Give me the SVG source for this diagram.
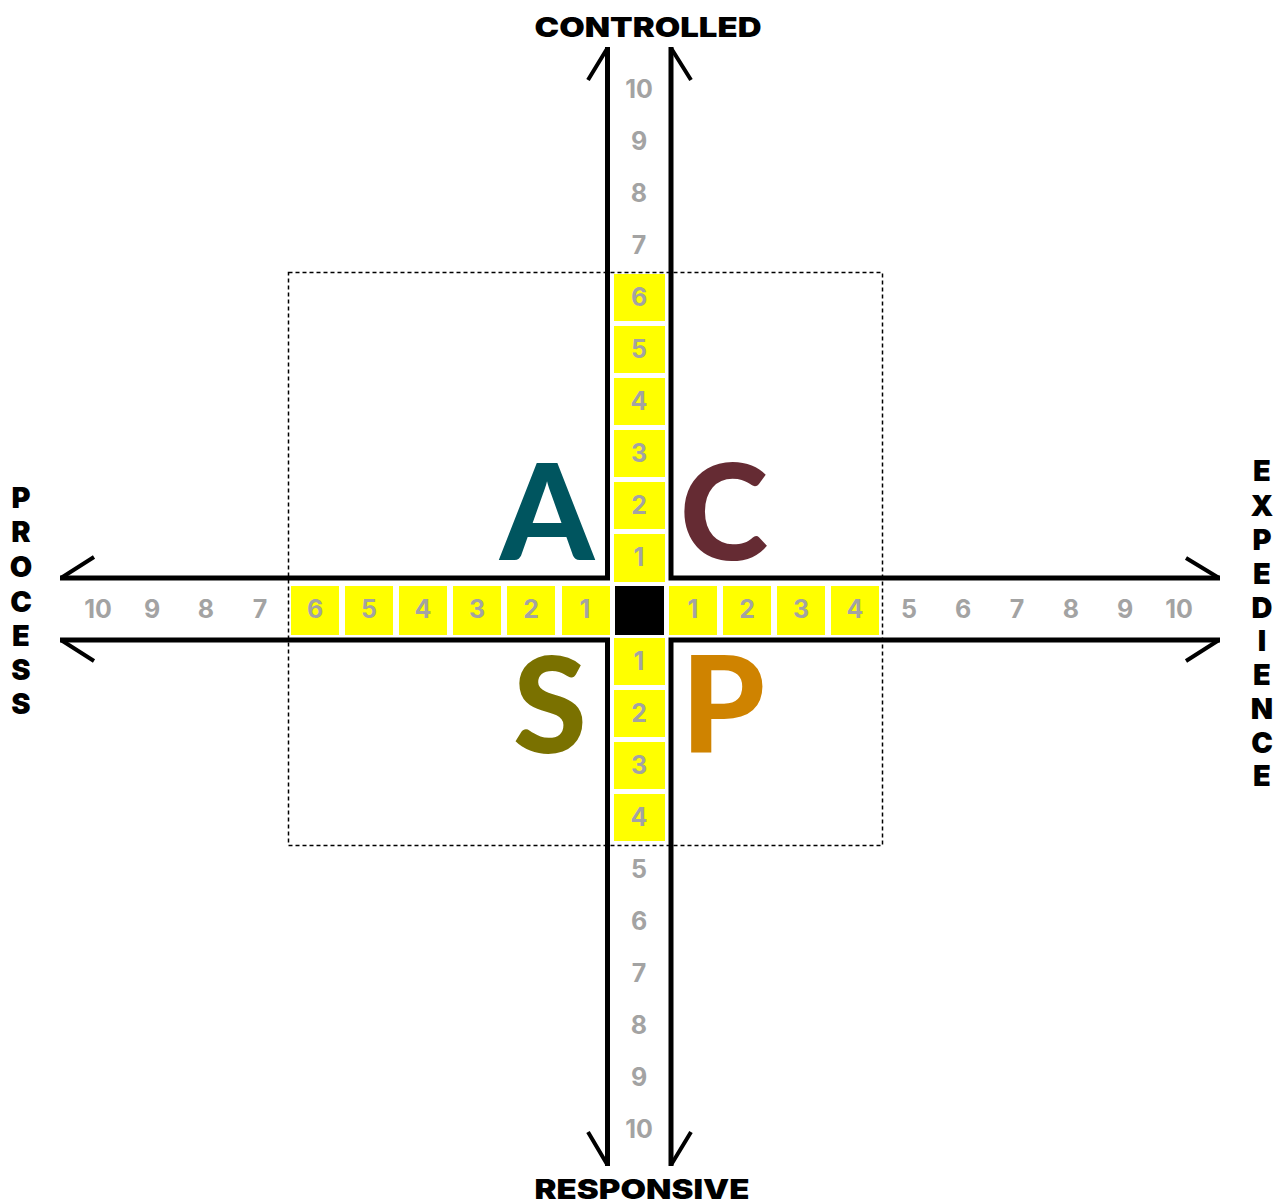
<svg xmlns="http://www.w3.org/2000/svg" width="1283" height="1204" viewBox="0 0 1283 1204">
<style>
.ax{fill:none;stroke:#000;stroke-width:5;stroke-linejoin:miter}
.ah{fill:none;stroke:#000;stroke-width:4;stroke-linecap:butt}
.cell{fill:#ffff00}
.n{font-family:"Inter","Lato","Liberation Sans",sans-serif;font-weight:700;font-size:25px;fill:#a3a3a3;text-anchor:middle}
.lbl{font-family:"Inter","Lato","Liberation Sans",sans-serif;font-weight:900;font-size:27px;fill:#000;text-anchor:middle}
.side{font-family:"Inter","Lato","Liberation Sans",sans-serif;font-weight:900;font-size:29px;fill:#000;text-anchor:middle}
.big{font-family:"Lato","Liberation Sans",sans-serif;font-weight:900;font-size:134px;text-anchor:middle}
</style>
<rect width="1283" height="1204" fill="#fff"/>
<g id="frame">
<rect x="288.5" y="272.5" width="594" height="573" fill="none" stroke="#000" stroke-width="1.5" stroke-dasharray="4 3"/>
</g>
<g id="connectors">
<path class="ax" d="M60,578 H607.5 V47"/>
<path class="ax" d="M1220,578 H671 V47"/>
<path class="ax" d="M60,640 H607.5 V1166"/>
<path class="ax" d="M1220,640 H671 V1166"/>
<path class="ah" d="M607.5,48 L588,80 M671,48 L691,80 M61,578 L94,557 M61,640 L94,661 M1219,578 L1186,558 M1219,640 L1186,661 M607.5,1165 L588,1132 M671,1165 L691,1132"/>
</g>
<g id="center"><rect x="615" y="586" width="49" height="49" fill="#000"/></g>
<g id="vertical-cells">
<rect class="cell" x="614" y="274" width="51" height="47"/>
<rect class="cell" x="614" y="326" width="51" height="47"/>
<rect class="cell" x="614" y="378" width="51" height="47"/>
<rect class="cell" x="614" y="430" width="51" height="47"/>
<rect class="cell" x="614" y="482" width="51" height="47"/>
<rect class="cell" x="614" y="534" width="51" height="48"/>
<rect class="cell" x="614" y="638" width="51" height="47"/>
<rect class="cell" x="614" y="690" width="51" height="47"/>
<rect class="cell" x="614" y="742" width="51" height="47"/>
<rect class="cell" x="614" y="794" width="51" height="47"/>
</g>
<g id="horizontal-cells">
<rect class="cell" x="291" y="586" width="48" height="49"/>
<rect class="cell" x="345" y="586" width="48" height="49"/>
<rect class="cell" x="399" y="586" width="48" height="49"/>
<rect class="cell" x="453" y="586" width="48" height="49"/>
<rect class="cell" x="507" y="586" width="48" height="49"/>
<rect class="cell" x="562" y="586" width="48" height="49"/>
<rect class="cell" x="669" y="586" width="48" height="49"/>
<rect class="cell" x="723" y="586" width="48" height="49"/>
<rect class="cell" x="777" y="586" width="48" height="49"/>
<rect class="cell" x="831" y="586" width="48" height="49"/>
</g>
<g id="vertical-numbers">
<text class="n" x="639" y="98">10</text>
<text class="n" x="639" y="150">9</text>
<text class="n" x="639" y="202">8</text>
<text class="n" x="639" y="254">7</text>
<text class="n" x="639" y="306">6</text>
<text class="n" x="639" y="358">5</text>
<text class="n" x="639" y="410">4</text>
<text class="n" x="639" y="462">3</text>
<text class="n" x="639" y="514">2</text>
<text class="n" x="639" y="566">1</text>
<text class="n" x="639" y="670">1</text>
<text class="n" x="639" y="722">2</text>
<text class="n" x="639" y="774">3</text>
<text class="n" x="639" y="826">4</text>
<text class="n" x="639" y="878">5</text>
<text class="n" x="639" y="930">6</text>
<text class="n" x="639" y="982">7</text>
<text class="n" x="639" y="1034">8</text>
<text class="n" x="639" y="1086">9</text>
<text class="n" x="639" y="1138">10</text>
</g>
<g id="horizontal-numbers">
<text class="n" x="98" y="618">10</text>
<text class="n" x="152" y="618">9</text>
<text class="n" x="206" y="618">8</text>
<text class="n" x="260" y="618">7</text>
<text class="n" x="315" y="618">6</text>
<text class="n" x="369" y="618">5</text>
<text class="n" x="423" y="618">4</text>
<text class="n" x="477" y="618">3</text>
<text class="n" x="531" y="618">2</text>
<text class="n" x="585" y="618">1</text>
<text class="n" x="693" y="618">1</text>
<text class="n" x="747" y="618">2</text>
<text class="n" x="801" y="618">3</text>
<text class="n" x="855" y="618">4</text>
<text class="n" x="909" y="618">5</text>
<text class="n" x="963" y="618">6</text>
<text class="n" x="1017" y="618">7</text>
<text class="n" x="1071" y="618">8</text>
<text class="n" x="1125" y="618">9</text>
<text class="n" x="1179" y="618">10</text>
</g>
<g id="quadrant-A"><text class="big" x="547" y="560" fill="#00555f">A</text></g>
<g id="quadrant-C"><text class="big" x="724" y="560" fill="#652b33">C</text></g>
<g id="quadrant-S"><text class="big" x="550" y="753" fill="#7a7100">S</text></g>
<g id="quadrant-P"><text class="big" x="723" y="752" fill="#cf8300">P</text></g>
<g id="label-controlled"><text class="lbl" x="648" y="37" textLength="227" lengthAdjust="spacingAndGlyphs">CONTROLLED</text></g>
<g id="label-responsive"><text class="lbl" x="642" y="1199" textLength="215" lengthAdjust="spacingAndGlyphs">RESPONSIVE</text></g>
<g id="label-process">
<text class="side" x="21" y="508">P</text>
<text class="side" x="21" y="542">R</text>
<text class="side" x="21" y="577">O</text>
<text class="side" x="21" y="612">C</text>
<text class="side" x="21" y="646">E</text>
<text class="side" x="21" y="680">S</text>
<text class="side" x="21" y="714">S</text>
</g>
<g id="label-expedience">
<text class="side" x="1262" y="481">E</text>
<text class="side" x="1262" y="516">X</text>
<text class="side" x="1262" y="550">P</text>
<text class="side" x="1262" y="584">E</text>
<text class="side" x="1262" y="618">D</text>
<text class="side" x="1262" y="651">I</text>
<text class="side" x="1262" y="685">E</text>
<text class="side" x="1262" y="719">N</text>
<text class="side" x="1262" y="753">C</text>
<text class="side" x="1262" y="786">E</text>
</g>
</svg>
